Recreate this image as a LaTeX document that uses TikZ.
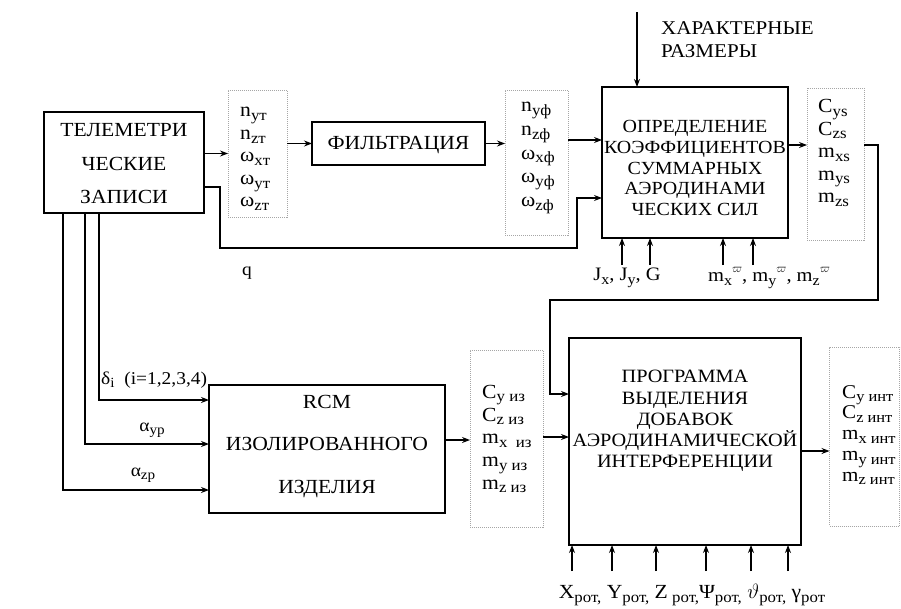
\documentclass[tikz,border=0pt]{standalone}
\usepackage{graphicx}
\usepackage{fontspec}
\setmainfont[FakeStretch=1.08]{Liberation Serif}
\usetikzlibrary{arrows.meta,calc}
\newcommand\Sb[1]{\raisebox{-0.4ex}{\scalebox{0.78}{#1}}}
\newcommand\Sp[1]{\raisebox{1.0ex}{\scalebox{0.7}{#1}}}
\begin{document}
\begin{tikzpicture}[x=1pt,y=-1pt,
  blk/.style={draw, line width=2.2pt, inner sep=0, outer sep=0},
  dbox/.style={draw=gray!70, densely dotted, line width=1pt, inner sep=0, outer sep=0},
  conn/.style={line width=1.1pt},
  arr/.style={conn, -{Stealth[length=8pt,width=6pt]}},
  txt/.style={inner sep=0, align=center},
  lst/.style={inner sep=0, align=left, anchor=west},
  lbl/.style={inner sep=0, font=\fontsize{18}{20}\selectfont}
]
\useasboundingbox (0,0) rectangle (901,608);

% boxes
\node[blk, minimum width=160, minimum height=101] (tel) at (124,162.5) {};
\node[dbox, minimum width=59, minimum height=127] (d1) at (257.5,153.5) {};
\node[blk, minimum width=173, minimum height=43] (fil) at (398.5,143.5) {};
\node[dbox, minimum width=63, minimum height=145] (d2) at (536.5,162.5) {};
\node[blk, minimum width=186, minimum height=151] (opr) at (695,162.5) {};
\node[dbox, minimum width=57, minimum height=152] (d3) at (835.5,164) {};
\node[blk, minimum width=236, minimum height=128] (rcm) at (327,449) {};
\node[dbox, minimum width=73, minimum height=177] (d4) at (506.5,438.5) {};
\node[blk, minimum width=232, minimum height=207] (prg) at (685,441.5) {};
\node[dbox, minimum width=70, minimum height=179] (d5) at (864.5,436.5) {};

% box texts
\node[txt, font=\fontsize{20}{33.5}\selectfont] (telt) at (124,164) {ТЕЛЕМЕТРИ\\ЧЕСКИЕ\\ЗАПИСИ};
\node[txt, font=\fontsize{20}{22}\selectfont] (filt) at (398.5,145) {ФИЛЬТРАЦИЯ};
\node[txt, font=\fontsize{18.5}{20.8}\selectfont] (oprt) at (695,168) {ОПРЕДЕЛЕНИЕ\\КОЭФФИЦИЕНТОВ\\СУММАРНЫХ\\АЭРОДИНАМИ\\ЧЕСКИХ СИЛ};
\node[txt, font=\fontsize{20}{42.5}\selectfont] (rcmt) at (327,446) {RCM\\ИЗОЛИРОВАННОГО\\ИЗДЕЛИЯ};
\node[txt, font=\fontsize{18.8}{21.2}\selectfont] (prgt) at (685,421) {ПРОГРАММА\\ВЫДЕЛЕНИЯ\\ДОБАВОК\\АЭРОДИНАМИЧЕСКОЙ\\ИНТЕРФЕРЕНЦИИ};
\node[lst, font=\fontsize{19.5}{23}\selectfont] (har) at (661,40) {ХАРАКТЕРНЫЕ\\РАЗМЕРЫ};

% list texts
\node[lst, font=\fontsize{20}{22.5}\selectfont] (d1t) at (240,159) {n\Sb{yт}\\n\Sb{zт}\\ω\Sb{xт}\\ω\Sb{yт}\\ω\Sb{zт}};
\node[lst, font=\fontsize{20}{23.7}\selectfont] (d2t) at (521,158) {n\Sb{yф}\\n\Sb{zф}\\ω\Sb{xф}\\ω\Sb{yф}\\ω\Sb{zф}};
\node[lst, font=\fontsize{20}{22.5}\selectfont] (d3t) at (818,153) {C\Sb{ys}\\C\Sb{zs}\\m\Sb{xs}\\m\Sb{ys}\\m\Sb{zs}};
\node[lst, font=\fontsize{20}{22.7}\selectfont] (d4t) at (482,439) {C\Sb{y из}\\C\Sb{z из}\\m\Sb{x~ из}\\m\Sb{y из}\\m\Sb{z из}};
\node[lst, font=\fontsize{19.5}{20.8}\selectfont] (d5t) at (842,435) {C\Sb{y инт}\\C\Sb{z инт}\\m\Sb{x инт}\\m\Sb{y инт}\\m\Sb{z инт}};

% labels
\node[lbl] (q) at (247,273) {q};
\node[lbl, anchor=west] (dl) at (101,380) {δ\Sb{i}~ (i=1,2,3,4)};
\node[lbl] (ayp) at (152,430) {α\Sb{yp}};
\node[lbl] (azp) at (143,475) {α\Sb{zp}};
\node[lbl, font=\fontsize{19}{20}\selectfont] (jxy) at (627,278) {J\Sb{x}, J\Sb{y}, G};
\node[lbl, font=\fontsize{19}{20}\selectfont] (mw) at (769,278) {m\Sb{x}\Sp{$\varpi$}, m\Sb{y}\Sp{$\varpi$}, m\Sb{z}\Sp{$\varpi$}};
\node[lbl, font=\fontsize{20}{22}\selectfont] (rot) at (692,595) {X\Sb{рот,} Y\Sb{рот,} Z\Sb{~рот,}Ψ\Sb{рот,} $\vartheta$\Sb{рот,} γ\Sb{рот}};

% connectors
\coordinate (top) at (637,12);
\draw[arr] (top) -- (opr.north -| top);
\draw[arr] (tel.east |- d1.center) -- (d1.west |- d1.center);
\draw[arr] (d1.east |- fil.west) -- (fil.west);
\draw[arr] (fil.east) -- (fil.east -| d2.west);
\draw[arr] (d2.east |- 0,140) -- (opr.west |- 0,140);
\draw[arr] (tel.east |- 0,187) -- (220,187) |- (577,248) |- (opr.west |- 0,198);
\draw[arr] (opr.east |- 0,145) -- (d3.west |- 0,145);
\draw[arr] (d3.east |- 0,145) -| (878,300) -| (550,394) -- (prg.west |- 0,394);
\foreach \x in {622,650,723,753} \draw[arr] (\x,265) -- (opr.south -| \x,0);
\draw[arr] (tel.south -| 99,0) -- (99,400) -- (rcm.west |- 0,400);
\draw[arr] (tel.south -| 85,0) -- (85,444) -- (rcm.west |- 0,444);
\draw[arr] (tel.south -| 63,0) -- (63,490) -- (rcm.west |- 0,490);
\draw[arr] (rcm.east |- 0,440) -- (d4.west |- 0,440);
\draw[arr] (d4.east |- 0,437) -- (prg.west |- 0,437);
\draw[arr] (prg.east |- 0,451) -- (d5.west |- 0,451);
\foreach \x in {572,612,656,706,751,788} \draw[arr] (\x,571) -- (prg.south -| \x,0);
\end{tikzpicture}
\end{document}
